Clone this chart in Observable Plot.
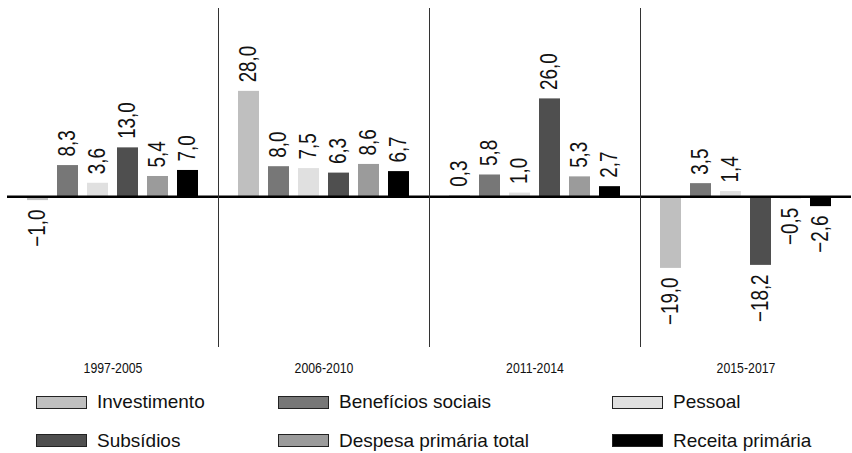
<!DOCTYPE html>
<html><head><meta charset="utf-8">
<script src="https://cdn.jsdelivr.net/npm/d3@7"></script>
<script src="https://cdn.jsdelivr.net/npm/@observablehq/plot@0.6"></script>
<style>
body{margin:0;background:#fff;}
#chart svg{display:block;}
#legend{position:relative;width:852px;height:73px;font-family:"Liberation Sans",Arial,sans-serif;font-size:19px;color:#111;}
.item{position:absolute;display:flex;align-items:center;height:20px;white-space:nowrap;}
.sw{width:49px;height:11px;border:1.5px solid #222;margin-right:10px;flex:none;}
</style></head><body>
<div id="chart"></div><div id="legend"></div>
<script>
const periods = ["1997-2005", "2006-2010", "2011-2014", "2015-2017"];
const series = ["Investimento", "Benefícios sociais", "Pessoal", "Subsídios", "Despesa primária total", "Receita primária"];
const colors = ["#bfbfbf", "#777777", "#e0e0e0", "#4f4f4f", "#9b9b9b", "#000000"];
const values1997_2005 = [-1.0, 8.3, 3.6, 13.0, 5.4, 7.0];
const values2006_2010 = [28.0, 8.0, 7.5, 6.3, 8.6, 6.7];
const values2011_2014 = [0.3, 5.8, 1.0, 26.0, 5.3, 2.7];
const values2015_2017 = [-19.0, 3.5, 1.4, -18.2, -0.5, -2.6];

const allValues = [values1997_2005, values2006_2010, values2011_2014, values2015_2017];
const data = [];
periods.forEach((p, i) => series.forEach((s, j) => data.push({period: p, series: s, value: allValues[i][j]})));

const fmt = v => (v < 0 ? "\u2212" : "") + Math.abs(v).toFixed(1).replace(".", ",");
const valueFont = {fontFamily: "'Liberation Sans', Arial, sans-serif", fontSize: 23, fill: "#111"};

const chart = Plot.plot({
  width: 852,
  height: 380,
  marginLeft: 6,
  marginRight: 0,
  marginTop: 8,
  marginBottom: 33,
  fx: {domain: periods, padding: 0, label: null},
  x: {domain: series, paddingInner: 0.3, paddingOuter: 0.66, axis: null},
  y: {domain: [-40, 50], axis: null},
  color: {domain: series, range: colors},
  marks: [
    Plot.barY(data, {fx: "period", x: "series", y: "value", fill: "series"}),
    Plot.ruleY([0], {stroke: "#000", strokeWidth: 2.5}),
    Plot.text(data.filter(d => d.value >= 0), {fx: "period", x: "series", y: "value", text: d => fmt(d.value),
      rotate: -90, textAnchor: "start", lineAnchor: "middle", dy: -9, className: "vlabel", ...valueFont}),
    Plot.text(data.filter(d => d.value < 0), {fx: "period", x: "series", y: "value", text: d => fmt(d.value),
      rotate: -90, textAnchor: "end", lineAnchor: "middle", dy: 9, className: "vlabel", ...valueFont}),
    Plot.axisFx({anchor: "bottom", tickSize: 0, tickPadding: 15, fontSize: 15, label: null,
      fontFamily: "'Liberation Sans', Arial, sans-serif", fill: "#111", className: "glabel"})
  ]
});
document.getElementById("chart").appendChild(chart);

// condense the label glyphs (the reference uses a narrow face)
d3.select(chart).selectAll(".vlabel text, .glabel text").each(function() {
  const t = this.getAttribute("transform");
  if (t) this.setAttribute("transform", t + " scale(0.82,1)");
});

// separators between periods, placed through the fx and y scales
const fxs = chart.scale("fx");
const ys = chart.scale("y");
const [yTop, yBottom] = [ys.apply(ys.domain[1]), ys.apply(ys.domain[0])];
d3.select(chart).append("g")
  .selectAll("line")
  .data(periods.slice(1))
  .join("line")
  .attr("x1", p => fxs.apply(p) + 0.5)
  .attr("x2", p => fxs.apply(p) + 0.5)
  .attr("y1", yTop)
  .attr("y2", yBottom)
  .attr("stroke", "#333")
  .attr("stroke-width", 1);

// legend
const legendCols = [36, 278, 612];
const legendRows = [12, 50.5];
const legend = document.getElementById("legend");
series.forEach((s, i) => {
  const item = document.createElement("div");
  item.className = "item";
  item.style.left = legendCols[i % 3] + "px";
  item.style.top = legendRows[Math.floor(i / 3)] + "px";
  const sw = document.createElement("span");
  sw.className = "sw";
  sw.style.background = colors[i];
  const label = document.createElement("span");
  label.textContent = s;
  item.appendChild(sw);
  item.appendChild(label);
  legend.appendChild(item);
});
</script>
</body></html>
